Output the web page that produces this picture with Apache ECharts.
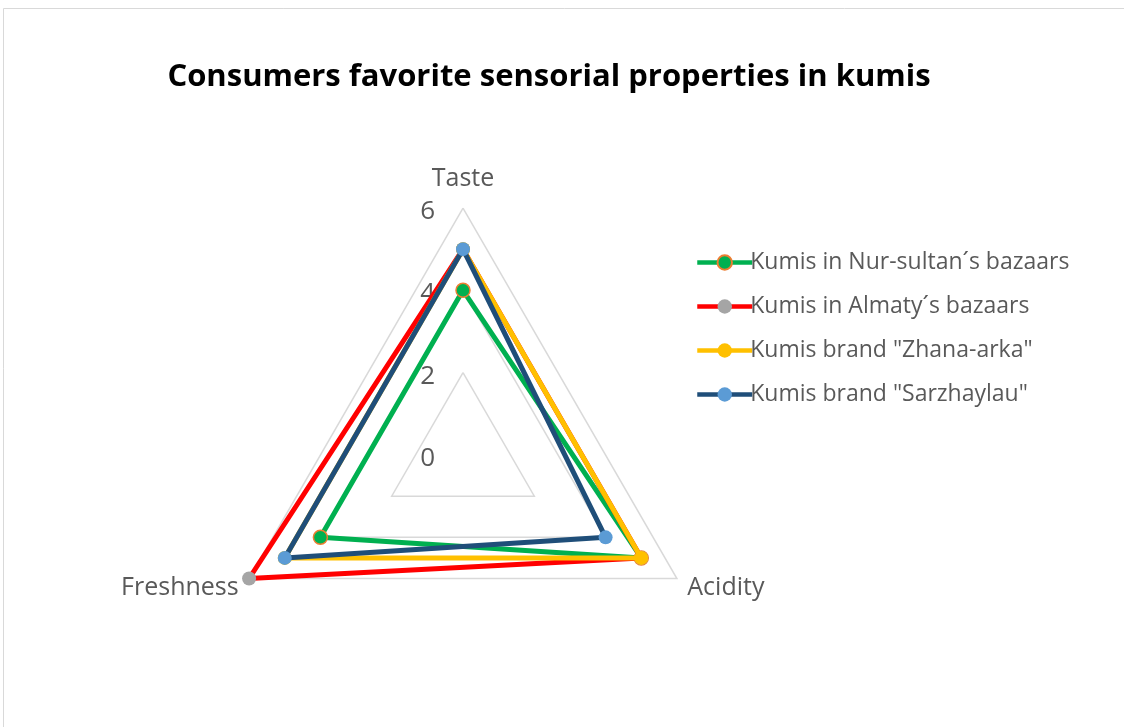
<!DOCTYPE html>
<html>
<head>
<meta charset="utf-8">
<script src="https://cdn.jsdelivr.net/npm/echarts@6/dist/echarts.min.js"></script>
<style>
html,body{margin:0;padding:0;background:#fff;}
#chart{width:1124px;height:727px;}
</style>
</head>
<body>
<div id="chart"></div>
<script>
// Data
var categories = ['Taste', 'Freshness', 'Acidity'];
var seriesNames = [
  'Kumis in Nur-sultan\u00b4s bazaars',
  'Kumis in Almaty\u00b4s bazaars',
  'Kumis brand "Zhana-arka"',
  'Kumis brand "Sarzhaylau"'
];
// values in order of categories: Taste, Freshness, Acidity
var nurSultan = [4, 4, 5];
var almaty = [5, 6, 5];
var zhanaArka = [5, 5, 5];
var sarzhaylau = [5, 5, 4];
var axisMin = 0, axisMax = 6, axisInterval = 2;

var FONT = '"Open Sans"';
var lineColors = ['#00B050', '#FF0000', '#FFC000', '#1F4E79'];
var markerColors = ['#00B050', '#A5A5A5', '#FFC000', '#5B9BD5'];
var markerBorders = ['#ED7D31', '#A5A5A5', '#FFC000', '#5B9BD5'];
var values = [nurSultan, almaty, zhanaArka, sarzhaylau];

var chart = echarts.init(document.getElementById('chart'), null, {renderer: 'canvas'});

var indicators = categories.map(function (c, i) {
  var ind = {name: c, min: axisMin, max: axisMax};
  if (i === 0) {
    ind.nameGap = 17;
    ind.axisLabel = {show: true, color: '#595959', fontSize: 26, fontFamily: FONT, margin: 28,
      verticalAlign: 'top', lineHeight: 7};
  } else {
    ind.nameGap = 12;
    ind.nameTextStyle = {color: '#595959', fontSize: 25, fontFamily: FONT, verticalAlign: 'top', lineHeight: 6};
  }
  return ind;
});

// Legend helper series (line type gives line + marker legend icons)
var legendSeries = seriesNames.map(function (n, i) {
  return {
    type: 'line',
    name: n,
    xAxisIndex: 0,
    yAxisIndex: 0,
    symbol: 'circle',
    lineStyle: {color: lineColors[i], width: 4.5},
    itemStyle: {color: markerColors[i], borderColor: markerBorders[i], borderWidth: i === 0 ? 1.5 : 0},
    data: []
  };
});

var radarSeries = values.map(function (v, i) {
  return {
    type: 'radar',
    name: seriesNames[i],
    symbol: 'circle',
    symbolSize: 14,
    z: 2 + i,
    lineStyle: {color: lineColors[i], width: 5},
    itemStyle: {color: markerColors[i], borderColor: markerBorders[i], borderWidth: i === 0 ? 1.5 : 0},
    data: [{value: v, name: seriesNames[i]}]
  };
});

chart.setOption({
  animation: false,
  backgroundColor: '#ffffff',
  title: {
    text: 'Consumers favorite sensorial properties in kumis',
    left: 544,
    top: 57,
    textAlign: 'center',
    textStyle: {fontFamily: FONT, fontWeight: 'bold', fontSize: 31, color: '#000000'}
  },
  graphic: [{
    type: 'rect',
    shape: {x: 3.5, y: 8.5, width: 1200, height: 800},
    style: {fill: 'none', stroke: '#D9D9D9', lineWidth: 1}
  }],
  grid: {left: 0, top: 0, width: 1, height: 1, show: false},
  xAxis: {type: 'value', show: false},
  yAxis: {type: 'value', show: false},
  legend: {
    orient: 'vertical',
    left: 690,
    top: 246,
    itemWidth: 55,
    itemHeight: 18,
    itemGap: 21,
    lineStyle: {width: 4.5},
    textStyle: {fontFamily: FONT, fontSize: 23, color: '#595959', padding: [0, 0, 0, -7]},
    data: seriesNames
  },
  radar: {
    center: [463, 455],
    radius: 247,
    startAngle: 90,
    shape: 'polygon',
    splitNumber: 3,
    indicator: indicators,
    axisName: {color: '#595959', fontSize: 25, fontFamily: FONT},
    nameGap: 12,
    axisLine: {show: false},
    axisTick: {show: false},
    splitArea: {show: false},
    splitLine: {lineStyle: {color: '#D9D9D9', width: 1.5}}
  },
  series: legendSeries.concat(radarSeries)
});
</script>
</body>
</html>
